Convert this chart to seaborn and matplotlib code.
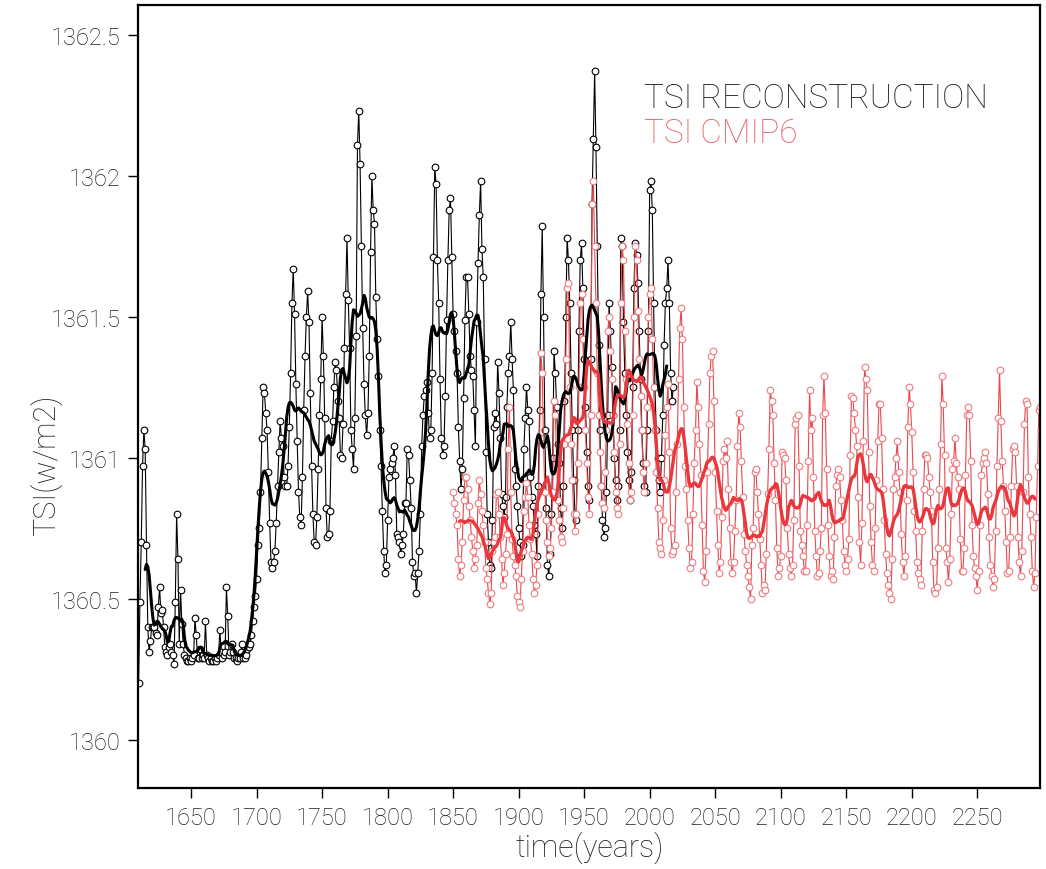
import numpy as np
import pandas as pd
import seaborn as sns
import matplotlib.pyplot as plt
from matplotlib import font_manager

OUTPUT_FILE = "out.png"

# TSI reconstruction, one value per year from 1610
BLACK_START = 1610
black_tsi = [
    1360.20, 1360.49, 1360.70, 1360.97, 1361.10, 1361.03, 1360.69, 1360.40, 1360.31, 1360.35,  # 1610
    1360.40, 1360.40, 1360.40, 1360.38, 1360.37, 1360.47, 1360.54, 1360.45, 1360.46, 1360.40,  # 1620
    1360.33, 1360.31, 1360.30, 1360.33, 1360.34, 1360.31, 1360.30, 1360.27, 1360.49, 1360.80,  # 1630
    1360.64, 1360.34, 1360.53, 1360.41, 1360.34, 1360.30, 1360.29, 1360.28, 1360.28, 1360.29,  # 1640
    1360.28, 1360.29, 1360.30, 1360.43, 1360.37, 1360.29, 1360.29, 1360.32, 1360.29, 1360.30,  # 1650
    1360.29, 1360.42, 1360.30, 1360.29, 1360.28, 1360.29, 1360.28, 1360.28, 1360.29, 1360.28,  # 1660
    1360.29, 1360.30, 1360.39, 1360.31, 1360.29, 1360.30, 1360.31, 1360.54, 1360.44, 1360.30,  # 1670
    1360.31, 1360.34, 1360.31, 1360.29, 1360.29, 1360.28, 1360.29, 1360.29, 1360.31, 1360.34,  # 1680
    1360.29, 1360.29, 1360.30, 1360.32, 1360.33, 1360.34, 1360.37, 1360.42, 1360.47, 1360.51,  # 1690
    1360.57, 1360.69, 1360.75, 1360.88, 1361.07, 1361.25, 1361.23, 1361.16, 1361.10, 1360.95,  # 1700
    1360.77, 1360.63, 1360.61, 1360.63, 1360.67, 1360.77, 1360.90, 1361.02, 1361.13, 1361.07,  # 1710
    1361.04, 1360.93, 1360.90, 1360.90, 1360.97, 1361.11, 1361.30, 1361.55, 1361.67, 1361.51,  # 1720
    1361.26, 1361.06, 1360.88, 1360.79, 1360.76, 1360.93, 1361.17, 1361.36, 1361.50, 1361.59,  # 1730
    1361.48, 1361.23, 1360.97, 1360.80, 1360.70, 1360.69, 1360.79, 1360.96, 1361.15, 1361.28,  # 1740
    1361.50, 1361.36, 1361.14, 1360.82, 1360.72, 1360.73, 1360.81, 1361.06, 1361.13, 1361.25,  # 1750
    1361.34, 1361.31, 1361.20, 1361.14, 1361.01, 1361.00, 1361.12, 1361.39, 1361.58, 1361.78,  # 1760
    1361.56, 1361.39, 1361.10, 1361.03, 1360.96, 1361.14, 1361.43, 1362.11, 1362.23, 1362.04,  # 1770
    1361.75, 1361.46, 1361.26, 1361.15, 1361.08, 1361.16, 1361.36, 1361.73, 1362.00, 1361.88,  # 1780
    1361.83, 1361.57, 1361.42, 1361.29, 1361.10, 1360.97, 1360.81, 1360.67, 1360.59, 1360.62,  # 1790
    1360.78, 1360.93, 1360.96, 1360.98, 1361.00, 1361.04, 1360.94, 1360.73, 1360.72, 1360.70,  # 1800
    1360.66, 1360.69, 1360.73, 1360.84, 1360.84, 1361.03, 1361.01, 1360.92, 1360.82, 1360.63,  # 1810
    1360.58, 1360.59, 1360.52, 1360.59, 1360.67, 1360.80, 1361.04, 1361.15, 1361.22, 1361.24,  # 1820
    1361.27, 1361.16, 1361.07, 1361.10, 1361.30, 1361.71, 1362.03, 1361.97, 1361.70, 1361.55,  # 1830
    1361.28, 1361.07, 1361.01, 1361.04, 1361.22, 1361.49, 1361.70, 1361.88, 1361.92, 1361.71,  # 1840
    1361.51, 1361.45, 1361.38, 1361.30, 1361.11, 1360.99, 1360.89, 1360.96, 1361.21, 1361.49,  # 1850
    1361.64, 1361.64, 1361.51, 1361.36, 1361.31, 1361.29, 1361.17, 1361.04, 1361.48, 1361.69,  # 1860
    1361.86, 1361.98, 1361.74, 1361.64, 1361.35, 1361.02, 1360.80, 1360.70, 1360.62, 1360.61,  # 1870
    1360.78, 1361.11, 1361.16, 1361.12, 1361.34, 1361.23, 1361.07, 1360.87, 1360.83, 1360.79,  # 1880
    1360.86, 1361.18, 1361.30, 1361.36, 1361.48, 1361.35, 1361.24, 1360.96, 1360.90, 1360.83,  # 1890
    1360.75, 1360.70, 1360.65, 1360.69, 1361.03, 1361.14, 1361.25, 1361.17, 1361.13, 1360.93,  # 1900
    1360.86, 1360.83, 1360.76, 1360.73, 1360.65, 1360.90, 1361.17, 1361.58, 1361.82, 1361.50,  # 1910
    1361.10, 1360.82, 1360.62, 1360.58, 1360.66, 1360.80, 1361.00, 1361.38, 1361.30, 1361.18,  # 1920
    1361.05, 1360.98, 1360.82, 1360.75, 1360.90, 1361.20, 1361.50, 1361.78, 1361.70, 1361.55,  # 1930
    1361.30, 1361.10, 1360.92, 1360.80, 1360.78, 1361.10, 1361.45, 1361.70, 1361.76, 1361.60,  # 1940
    1361.35, 1361.18, 1361.02, 1360.90, 1360.85, 1361.35, 1361.90, 1362.13, 1362.37, 1362.10,  # 1950
    1361.75, 1361.40, 1361.10, 1360.90, 1360.78, 1360.72, 1360.75, 1360.88, 1361.15, 1361.55,  # 1960
    1361.45, 1361.32, 1361.15, 1361.00, 1360.92, 1360.85, 1360.90, 1361.10, 1361.78, 1361.75,  # 1970
    1361.48, 1361.30, 1361.15, 1361.02, 1360.92, 1360.85, 1360.95, 1361.25, 1361.60, 1361.76,  # 1980
    1361.72, 1361.62, 1361.45, 1361.28, 1361.10, 1360.98, 1360.90, 1360.88, 1361.10, 1361.45,  # 1990
    1361.95, 1361.98, 1361.88, 1361.55, 1361.25, 1361.10, 1361.00, 1360.92, 1360.88, 1361.00,  # 2000
    1361.15, 1361.40, 1361.55, 1361.60, 1361.70, 1361.55, 1361.30, 1361.20, 1361.25,           # 2010
]

# TSI CMIP6 (historical + projection), one value per year from 1850
RED_START = 1850
cmip6_tsi = [
    1360.88, 1360.84, 1360.80, 1360.76, 1360.64, 1360.58, 1360.62, 1360.70, 1360.85, 1360.93,  # 1850
    1360.93, 1360.89, 1360.83, 1360.78, 1360.72, 1360.67, 1360.61, 1360.64, 1360.69, 1360.84,  # 1860
    1360.92, 1360.87, 1360.81, 1360.76, 1360.70, 1360.61, 1360.57, 1360.52, 1360.48, 1360.52,  # 1870
    1360.67, 1360.70, 1360.72, 1360.87, 1360.88, 1360.80, 1360.72, 1360.64, 1360.55, 1360.59,  # 1880
    1360.66, 1360.73, 1361.03, 1361.18, 1360.88, 1360.71, 1360.65, 1360.62, 1360.58, 1360.51,  # 1890
    1360.49, 1360.47, 1360.57, 1360.67, 1360.81, 1360.86, 1360.91, 1360.86, 1360.76, 1360.71,  # 1900
    1360.66, 1360.57, 1360.52, 1360.55, 1360.62, 1360.80, 1361.07, 1361.37, 1361.30, 1361.05,  # 1910
    1360.88, 1360.78, 1360.70, 1360.65, 1360.68, 1360.75, 1360.88, 1361.20, 1361.15, 1361.00,  # 1920
    1360.85, 1360.78, 1360.72, 1360.70, 1360.82, 1361.05, 1361.35, 1361.60, 1361.62, 1361.25,  # 1930
    1361.05, 1360.92, 1360.80, 1360.74, 1360.80, 1360.98, 1361.25, 1361.55, 1361.58, 1361.42,  # 1940
    1361.25, 1361.10, 1360.98, 1360.86, 1360.80, 1361.15, 1361.90, 1361.98, 1361.75, 1361.55,  # 1950
    1361.30, 1361.15, 1361.02, 1360.90, 1360.84, 1360.82, 1360.95, 1361.10, 1361.45, 1361.50,  # 1960
    1361.38, 1361.28, 1361.15, 1361.02, 1360.88, 1360.82, 1360.80, 1361.05, 1361.55, 1361.75,  # 1970
    1361.70, 1361.45, 1361.28, 1361.12, 1360.98, 1360.85, 1360.88, 1361.15, 1361.50, 1361.75,  # 1980
    1361.70, 1361.52, 1361.35, 1361.22, 1361.10, 1360.95, 1360.88, 1360.98, 1361.18, 1361.50,  # 1990
    1361.58, 1361.60, 1361.42, 1361.25, 1361.10, 1360.95, 1360.82, 1360.70, 1360.68, 1360.66,  # 2000
    1360.78, 1360.92, 1361.08, 1361.18, 1361.26, 1361.02, 1360.75, 1360.66, 1360.67, 1360.69,  # 2010
    1360.88, 1361.05, 1361.28, 1361.46, 1361.53, 1361.42, 1361.18, 1360.97, 1360.89, 1360.78,  # 2020
    1360.68, 1360.61, 1360.63, 1360.80, 1360.98, 1361.10, 1361.27, 1361.18, 1361.05, 1360.94,  # 2030
    1360.76, 1360.60, 1360.56, 1360.67, 1360.95, 1361.12, 1361.30, 1361.36, 1361.38, 1361.20,  # 2040
    1360.95, 1360.81, 1360.69, 1360.59, 1360.63, 1360.79, 1360.99, 1361.03, 1361.00, 1361.06,  # 2050
    1360.89, 1360.75, 1360.63, 1360.59, 1360.63, 1360.74, 1360.85, 1361.04, 1361.16, 1361.11,  # 2060
    1360.99, 1360.86, 1360.73, 1360.67, 1360.62, 1360.58, 1360.54, 1360.50, 1360.69, 1360.75,  # 2070
    1360.95, 1360.96, 1360.88, 1360.80, 1360.71, 1360.62, 1360.52, 1360.55, 1360.53, 1360.66,  # 2080
    1360.87, 1361.03, 1361.24, 1361.20, 1361.15, 1360.98, 1360.85, 1360.68, 1360.58, 1360.61,  # 2090
    1360.65, 1361.02, 1361.01, 1361.00, 1360.92, 1360.75, 1360.66, 1360.61, 1360.58, 1360.62,  # 2100
    1360.78, 1361.12, 1361.14, 1361.15, 1360.97, 1360.74, 1360.69, 1360.65, 1360.60, 1360.60,  # 2110
    1360.76, 1360.99, 1361.24, 1361.10, 1361.14, 1360.93, 1360.74, 1360.65, 1360.58, 1360.59,  # 2120
    1360.67, 1360.75, 1361.15, 1361.29, 1361.16, 1360.96, 1360.76, 1360.65, 1360.58, 1360.60,  # 2130
    1360.57, 1360.72, 1360.90, 1360.94, 1360.96, 1360.93, 1360.85, 1360.78, 1360.67, 1360.62,  # 2140
    1360.60, 1360.64, 1360.71, 1361.01, 1361.22, 1361.21, 1361.16, 1361.10, 1361.04, 1360.86,  # 2150
    1360.70, 1360.62, 1360.77, 1361.06, 1361.32, 1361.28, 1361.24, 1361.02, 1360.83, 1360.70,  # 2160
    1360.62, 1360.60, 1360.75, 1360.92, 1361.06, 1361.19, 1361.19, 1361.07, 1360.89, 1360.78,  # 2170
    1360.66, 1360.59, 1360.55, 1360.52, 1360.50, 1360.64, 1360.89, 1360.93, 1361.00, 1361.06,  # 2180
    1360.95, 1360.88, 1360.73, 1360.63, 1360.58, 1360.65, 1360.85, 1361.11, 1361.25, 1361.19,  # 2190
    1361.09, 1360.95, 1360.81, 1360.74, 1360.63, 1360.59, 1360.57, 1360.55, 1360.74, 1360.89,  # 2200
    1361.01, 1361.01, 1361.00, 1360.93, 1360.88, 1360.81, 1360.63, 1360.53, 1360.52, 1360.54,  # 2210
    1360.68, 1360.89, 1361.05, 1361.29, 1361.19, 1361.01, 1360.68, 1360.63, 1360.56, 1360.64,  # 2220
    1360.80, 1360.96, 1360.99, 1361.07, 1360.98, 1360.93, 1360.89, 1360.71, 1360.60, 1360.60,  # 2230
    1360.68, 1360.94, 1361.15, 1361.18, 1361.15, 1360.99, 1360.76, 1360.65, 1360.61, 1360.58,  # 2240
    1360.53, 1360.60, 1360.76, 1360.94, 1360.98, 1361.00, 1361.02, 1360.98, 1360.87, 1360.72,  # 2250
    1360.62, 1360.58, 1360.54, 1360.57, 1360.74, 1360.97, 1361.14, 1361.31, 1361.13, 1360.99,  # 2260
    1360.90, 1360.81, 1360.70, 1360.59, 1360.60, 1360.72, 1360.90, 1361.03, 1361.04, 1361.02,  # 2270
    1360.90, 1360.72, 1360.63, 1360.58, 1360.67, 1360.88, 1361.12, 1361.20, 1361.19, 1360.93,  # 2280
    1360.80, 1360.72, 1360.60, 1360.54, 1360.59, 1360.79, 1360.97, 1361.17, 1361.18, 1361.10,  # 2290
]

Y_TICKS = [1360, 1360.5, 1361, 1361.5, 1362, 1362.5]
Y_TICK_LABELS = ["1360", "1360.5", "1361", "1361.5", "1362", "1362.5"]
X_TICKS = list(range(1650, 2251, 50))

SMOOTH_WINDOW = 11  # running mean, years
TEXT_GREY = "#1e1e1e"
RED_LINE = "#e8474d"
RED_MARKER = "#ee7b80"
RED_SMOOTH = "#e8383d"
RED_TEXT = "#e65c62"


def pick_font():
    names = {f.name for f in font_manager.fontManager.ttflist}
    for name in ["Liberation Sans Narrow", "Roboto", "DejaVu Sans"]:
        if name in names:
            return name
    return "DejaVu Sans"


def make_frame(start, values):
    df = pd.DataFrame({"year": np.arange(start, start + len(values)), "tsi": values})
    df["smooth"] = df["tsi"].rolling(SMOOTH_WINDOW, center=True).mean()
    return df


def plot_tsi():
    sns.set_style("ticks")
    plt.rcParams["font.family"] = [pick_font(), "DejaVu Sans"]
    plt.rcParams["font.weight"] = "light"
    plt.rcParams["axes.labelweight"] = "light"

    black = make_frame(BLACK_START, black_tsi)
    red = make_frame(RED_START, cmip6_tsi)

    fig = plt.figure(figsize=(10.46, 8.70), dpi=100)
    ax = fig.add_axes([0.1324, 0.0928, 0.8619, 0.9006])

    # yearly points
    sns.lineplot(data=black, x="year", y="tsi", ax=ax, color="black", lw=0.8,
                 marker="o", markersize=4.8, markerfacecolor="white",
                 markeredgecolor="black", markeredgewidth=0.8)
    sns.lineplot(data=red, x="year", y="tsi", ax=ax, color=RED_LINE, lw=0.8,
                 marker="o", markersize=4.8, markerfacecolor="white",
                 markeredgecolor=RED_MARKER, markeredgewidth=0.8)

    # running means
    sns.lineplot(data=black.dropna(), x="year", y="smooth", ax=ax, color="black", lw=2.2)
    sns.lineplot(data=red.dropna(), x="year", y="smooth", ax=ax, color=RED_SMOOTH, lw=2.4)

    ax.set_xlim(1609.9, 2297.9)
    ax.set_ylim(1359.828, 1362.606)
    ax.set_xticks(X_TICKS)
    ax.set_xticklabels([str(x) for x in X_TICKS])
    ax.set_yticks(Y_TICKS)
    ax.set_yticklabels(Y_TICK_LABELS)
    ax.tick_params(axis="both", direction="out", length=7, width=1, color="black",
                   labelsize=17, labelcolor=TEXT_GREY, pad=6)

    for side in ["left", "right", "top", "bottom"]:
        ax.spines[side].set_visible(True)
        ax.spines[side].set_linewidth(1.6)
        ax.spines[side].set_color("black")

    ax.set_xlabel("time(years)", fontsize=22, color=TEXT_GREY, fontweight="light")
    ax.set_ylabel("TSI(w/m2)", fontsize=22, color=TEXT_GREY, fontweight="light")
    ax.xaxis.set_label_coords(0.5, -0.054)
    ax.yaxis.set_label_coords(-0.085, 0.414)

    ax.text(0.5607, 0.8695, "TSI RECONSTRUCTION", transform=ax.transAxes,
            fontsize=24, color=TEXT_GREY, va="baseline", ha="left")
    ax.text(0.5607, 0.8248, "TSI CMIP6", transform=ax.transAxes,
            fontsize=24, color=RED_TEXT, va="baseline", ha="left")

    fig.savefig(OUTPUT_FILE, dpi=100)
    plt.close(fig)


if __name__ == "__main__":
    plot_tsi()
